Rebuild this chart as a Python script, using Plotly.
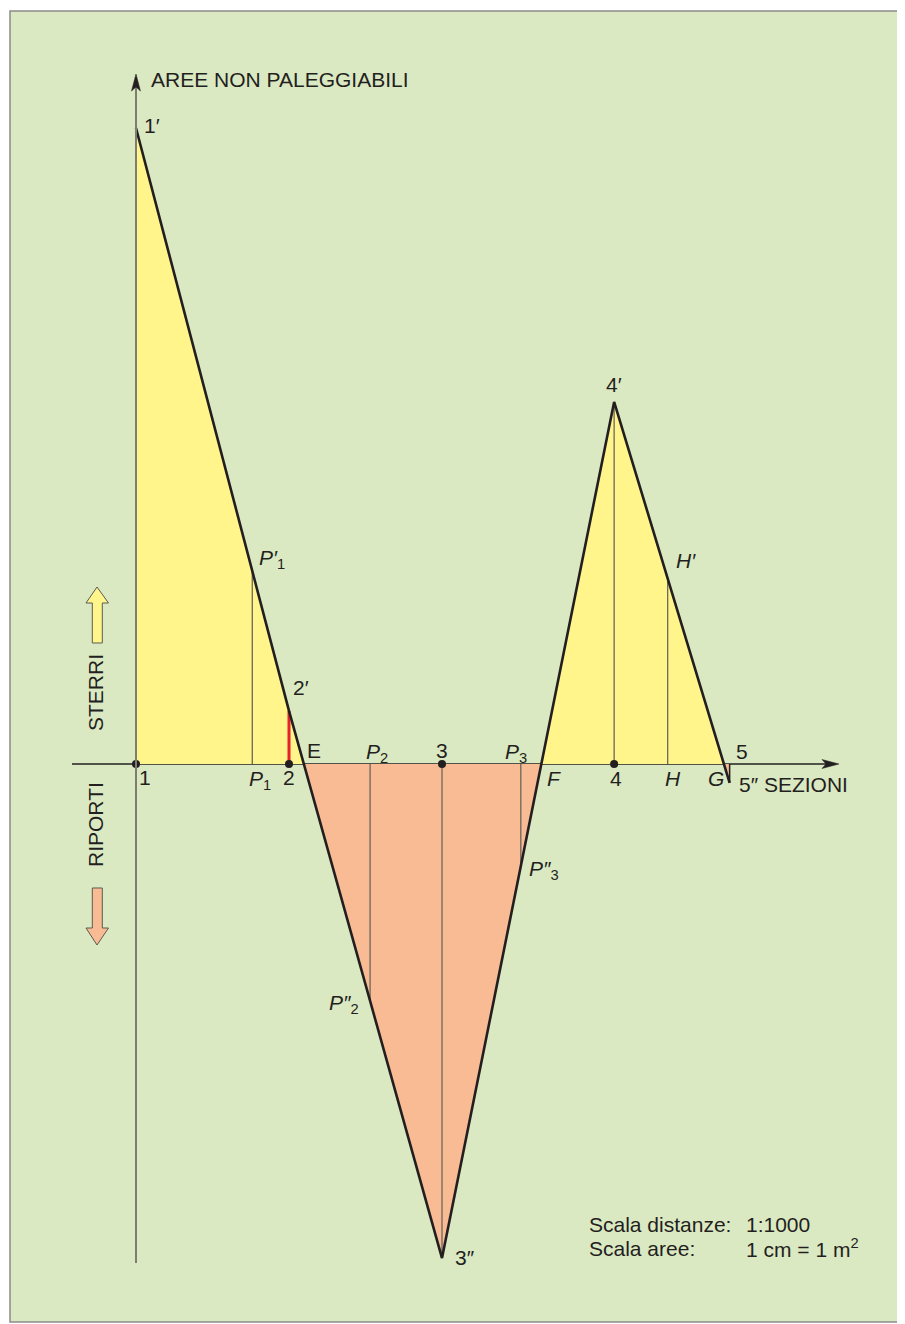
import plotly.graph_objects as go

# ---------------- data ----------------
sections = ["1", "2", "3", "4", "5"]
section_dist = [0.0, 20.0, 40.0, 62.5, 77.6]          # progressive distance (m)
section_area = [21.2, 1.77, -16.47, 12.07, -0.63]      # non-compensable area (m²): + sterro, - riporto
profile_labels = ["1′", "2′", "3″", "4′", "5″"]

zero_names = ["E", "F", "G"]
zero_dist = [21.94, 52.98, 76.85]                       # where the profile crosses the axis

mid_names = ["P1", "P2", "P3", "H"]
mid_dist = [15.2, 30.6, 50.3, 69.5]
mid_area = [6.43, -7.90, -3.40, 6.18]

title_text = "AREE NON PALEGGIABILI"
axis_text = "SEZIONI"
up_text = "STERRI"
down_text = "RIPORTI"
scale_rows = [("Scala distanze:", "1:1000"), ("Scala aree:", "1 cm = 1 m<sup>2</sup>")]

# ---------------- styles / layout geometry ----------------
OFF = 8                    # default page (body) margin
FW, FH = 897, 1316         # figure size
OX, OY = 136, 764          # screen pixel position of the origin
KX, KY = 7.65, 30.0        # pixels per unit
BG = "#DBE9C3"
YEL = "#FFF58A"
ORA = "#F9BB94"
INK = "#231F20"
ORD = "#6B675C"
FONT = "Liberation Sans, Arial, sans-serif"
FS = 21

def PX(px):
    return (px - OFF) / FW

def PY(py):
    return 1 - (py - OFF) / FH

def path(pts):
    return "M " + " L ".join(f"{PX(x):.5f},{PY(y):.5f}" for x, y in pts) + " Z"

fig = go.Figure()

d, a = section_dist, section_area
E, F, G = zero_dist

polys = [
    ([d[0], d[0], d[1], E], [0, a[0], a[1], 0], YEL),
    ([F, d[3], G], [0, a[3], 0], YEL),
    ([E, d[2], F], [0, a[2], 0], ORA),
    ([G, d[4], d[4]], [0, a[4], 0], ORA),
]
for xs, ys, col in polys:
    fig.add_trace(go.Scatter(x=xs + [xs[0]], y=ys + [ys[0]], fill="toself", fillcolor=col,
                             mode="lines", line=dict(width=0), hoverinfo="skip", showlegend=False))

# ordinates (thin)
ox, oy = [], []
for xv, yv in list(zip(mid_dist, mid_area)) + [(d[2], a[2]), (d[3], a[3])]:
    ox += [xv, xv, None]
    oy += [0, yv, None]
fig.add_trace(go.Scatter(x=ox, y=oy, mode="lines", line=dict(color=ORD, width=1.3),
                         hoverinfo="skip", showlegend=False))
# ordinate at 5 (black)
fig.add_trace(go.Scatter(x=[d[4], d[4]], y=[0, a[4]], mode="lines", line=dict(color=INK, width=1.5),
                         hoverinfo="skip", showlegend=False))
# red ordinate at section 2
fig.add_trace(go.Scatter(x=[d[1], d[1]], y=[0, a[1]], mode="lines", line=dict(color="#E3232A", width=3),
                         hoverinfo="skip", showlegend=False))

# profile line
fig.add_trace(go.Scatter(x=d, y=a, mode="lines", line=dict(color=INK, width=2.6),
                         hoverinfo="skip", showlegend=False))
# section points on axis
fig.add_trace(go.Scatter(x=d[:4], y=[0] * 4, mode="markers", marker=dict(color=INK, size=8),
                         hoverinfo="skip", showlegend=False))

xr = [(OFF - OX) / KX, (OFF + FW - OX) / KX]
yr = [(OY - (OFF + FH)) / KY, (OY - OFF) / KY]

shapes = []
# background panel
shapes.append(dict(type="rect", xref="paper", yref="paper", x0=PX(10), x1=PX(903), y0=PY(1322), y1=PY(11),
                   fillcolor=BG, line=dict(color="#8A8A8A", width=1.5), layer="below"))
# vertical axis
shapes.append(dict(type="line", xref="paper", yref="paper", x0=PX(OX), x1=PX(OX), y0=PY(1263), y1=PY(86),
                   line=dict(color="#7E7E70", width=2), layer="above"))
shapes.append(dict(type="path", xref="paper", yref="paper",
                   path=path([(OX, 74), (OX - 4.5, 91), (OX, 87), (OX + 4.5, 91)]),
                   fillcolor=INK, line=dict(color=INK, width=0.5)))
# horizontal axis
shapes.append(dict(type="line", xref="paper", yref="paper", x0=PX(72), x1=PX(830), y0=PY(OY), y1=PY(OY),
                   line=dict(color=INK, width=1.5), layer="below"))
shapes.append(dict(type="path", xref="paper", yref="paper",
                   path=path([(839, OY), (822, OY - 4.5), (826, OY), (822, OY + 4.5)]),
                   fillcolor=INK, line=dict(color=INK, width=0.5)))
# side arrows
up = [(97, 587), (108.5, 603), (102.3, 603), (102.3, 643), (92.3, 643), (92.3, 603), (86, 603)]
dn = [(97, 945), (108.5, 928), (102.3, 928), (102.3, 888), (92.3, 888), (92.3, 928), (86, 928)]
shapes.append(dict(type="path", xref="paper", yref="paper", path=path(up), fillcolor=YEL,
                   line=dict(color="#5A5A50", width=1)))
shapes.append(dict(type="path", xref="paper", yref="paper", path=path(dn), fillcolor=ORA,
                   line=dict(color="#5A5A50", width=1)))

ann = []

def lab(text, x, y, dx, dy, xanchor="center"):
    ann.append(dict(x=x, y=y, xref="x", yref="y", text=text, showarrow=False,
                    xanchor=xanchor, yanchor="middle", xshift=dx, yshift=-dy,
                    font=dict(family=FONT, size=FS, color=INK)))

def ital(name, primes=""):
    base, sub = name[0], name[1:]
    s = f"<i>{base}{primes}</i>"
    if sub:
        s += f"<sub>{sub}</sub>"
    return s

# section numbers
lab(sections[0], d[0], 0, 9, 13)
lab(sections[1], d[1], 0, 0, 13)
lab(sections[2], d[2], 0, 0, -14)
lab(sections[3], d[3], 0, 2, 14)
lab(sections[4], d[4], 0, 12, -13)
# profile points
lab(profile_labels[0], d[0], a[0], 6, -3, xanchor="left")
lab(profile_labels[1], d[1], a[1], 2, -23, xanchor="left")
lab(profile_labels[2], d[2], a[2], 11, -1, xanchor="left")
lab(profile_labels[3], d[3], a[3], 0, -17)
lab(profile_labels[4] + " " + axis_text, d[4], a[4], 7, 2, xanchor="left")
# zero crossings
lab(zero_names[0], E, 0, 10, -14)
lab(ital(zero_names[1]), F, 0, 13, 14)
lab(ital(zero_names[2]), G, 0, -8, 14)
# intermediate points on the axis
lab(ital(mid_names[0]), mid_dist[0], 0, 8, 16)
lab(ital(mid_names[1]), mid_dist[1], 0, 7, -11)
lab(ital(mid_names[2]), mid_dist[2], 0, -5, -11)
lab(ital(mid_names[3]), mid_dist[3], 0, 5, 14)
# intermediate points on the profile
lab(ital(mid_names[0], "′"), mid_dist[0], mid_area[0], 5, -12, xanchor="left")
lab(ital(mid_names[1], "″"), mid_dist[1], mid_area[1], -9, 3, xanchor="right")
lab(ital(mid_names[2], "″"), mid_dist[2], mid_area[2], 6, 4, xanchor="left")
lab(ital(mid_names[3], "′"), mid_dist[3], mid_area[3], 6, -18, xanchor="left")

def ptext(text, px, py, xanchor="left", angle=0, size=FS):
    ann.append(dict(x=PX(px), y=PY(py), xref="paper", yref="paper", text=text, showarrow=False,
                    xanchor=xanchor, yanchor="middle", textangle=angle,
                    font=dict(family=FONT, size=size, color=INK)))

ptext(title_text, 149, 80)
ptext(up_text, 95, 693, xanchor="center", angle=-90)
ptext(down_text, 95, 825, xanchor="center", angle=-90)
for i, (k, v) in enumerate(scale_rows):
    ptext(k, 587, 1224 + 24 * i)
    ptext(v, 744, 1224 + 24 * i)

fig.update_layout(
    width=FW, height=FH, autosize=False,
    margin=dict(l=0, r=0, t=0, b=0),
    paper_bgcolor="white", plot_bgcolor="rgba(0,0,0,0)",
    xaxis=dict(range=xr, visible=False, fixedrange=True),
    yaxis=dict(range=yr, visible=False, fixedrange=True),
    shapes=shapes, annotations=ann, showlegend=False,
)

fig.write_html("out.html", post_script="document.body.style.overflow='hidden';")
